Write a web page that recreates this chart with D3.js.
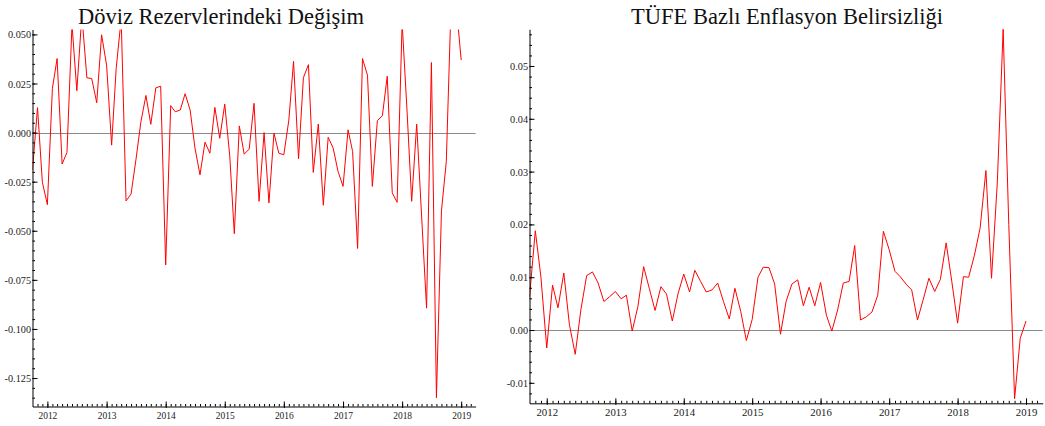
<!DOCTYPE html>
<html>
<head>
<meta charset="utf-8">
<script src="https://cdn.jsdelivr.net/npm/d3@7"></script>
<style>
  body { margin: 0; background: #fff; }
  svg { display: block; font-family: "Liberation Serif", "Times New Roman", serif; }
</style>
</head>
<body>
<div id="chart"></div>
<script>
var width = 1045,
    height = 426;

// monthly observations, Oct 2011 .. Jan 2019
var firstMonth = new Date(2011, 9, 1),
    lastAxisDay = new Date(2019, 2, 31);

var titles = ["Döviz Rezervlerindeki Değişim", "TÜFE Bazlı Enflasyon Belirsizliği"];

var reserveChange = [
  -0.019, 0.0127, -0.0253, -0.0367, 0.0225, 0.0377, -0.016, -0.0101, 0.055, 0.0213,
  0.060, 0.0279, 0.0275, 0.0152, 0.0498, 0.0343, -0.0064, 0.0326, 0.058, -0.0348,
  -0.0313, -0.0139, 0.0056, 0.0189, 0.0042, 0.0228, 0.0236, -0.0674, 0.0137, 0.0106,
  0.0115, 0.0198, 0.0115, -0.0079, -0.0215, -0.0049, -0.0105, 0.0128, -0.0029, 0.0145,
  -0.012, -0.0515, 0.0034, -0.011, -0.0084, 0.0149, -0.035, 0.0, -0.0358, -0.0003,
  -0.0105, -0.0113, 0.0064, 0.0363, -0.0133, 0.028, 0.0346, -0.0203, 0.0044, -0.037,
  -0.0024, -0.0079, -0.0198, -0.0274, 0.0014, -0.0096, -0.059, 0.0377, 0.0292, -0.0274,
  0.0061, 0.0086, 0.0287, -0.0307, -0.0355, 0.056, 0.010, -0.035, 0.0043, -0.042,
  -0.0894, 0.0357, -0.135, -0.040, -0.0147, 0.070, 0.065, 0.0369
];

var cpiUncertainty = [
  0.0062, 0.0188, 0.010, -0.0034, 0.0085, 0.0042, 0.0108, 0.001, -0.0046, 0.0038,
  0.0103, 0.011, 0.0089, 0.0054, 0.0063, 0.0073, 0.0059, 0.0066, -0.0002, 0.0044,
  0.012, 0.0079, 0.0037, 0.0082, 0.0068, 0.0017, 0.0068, 0.0106, 0.0072, 0.0113,
  0.0092, 0.0072, 0.0076, 0.0089, 0.0054, 0.0021, 0.0079, 0.0035, -0.002, 0.002,
  0.010, 0.0119, 0.0118, 0.0087, -0.0008, 0.0054, 0.0087, 0.0095, 0.0046, 0.0081,
  0.0046, 0.009, 0.0028, -0.0002, 0.0038, 0.0089, 0.0092, 0.016, 0.0019, 0.0025,
  0.0034, 0.0066, 0.0187, 0.0152, 0.0111, 0.0101, 0.0087, 0.0076, 0.0019, 0.0057,
  0.0098, 0.0073, 0.0096, 0.0165, 0.0092, 0.0013, 0.0101, 0.010, 0.0142, 0.0193,
  0.0302, 0.0098, 0.028, 0.057, 0.02, -0.013, -0.0016, 0.0017
];

var yearTicks = d3.range(2012, 2020);
var leftMajor = [-0.125, -0.1, -0.075, -0.05, -0.025, 0, 0.025, 0.05];
var rightMajor = [-0.01, 0, 0.01, 0.02, 0.03, 0.04, 0.05];

var dates = reserveChange.map(function(d, i) { return d3.timeMonth.offset(firstMonth, i); });
var monthTicks = d3.timeMonth.range(d3.timeMonth.offset(firstMonth, 1), lastAxisDay);
var yearDates = yearTicks.map(function(y) { return new Date(y, 0, 1); });

var svg = d3.select("#chart").append("svg")
  .attr("width", width)
  .attr("height", height);

var panels = [
  { id: "l", title: titles[0], titleX: 221, values: reserveChange,
    left: 32.5, right: 475.6, top: 29.5, bottom: 406.5,
    yDomain: [-0.1395, 0.0525], major: leftMajor, minorStep: 0.005, digits: 3, xScaleText: 0.86 },
  { id: "r", title: titles[1], titleX: 787, values: cpiUncertainty,
    left: 529.5, right: 1042.7, top: 29.3, bottom: 403.3,
    yDomain: [-0.01388, 0.05695], major: rightMajor, minorStep: 0.002, digits: 2, xScaleText: 0.98 }
];

panels.forEach(drawPanel);

function drawPanel(p) {
  var x = d3.scaleTime()
    .domain([firstMonth, lastAxisDay])
    .range([p.left, p.right]);

  var y = d3.scaleLinear()
    .domain(p.yDomain)
    .range([p.bottom, p.top]);

  var g = svg.append("g");

  svg.append("clipPath").attr("id", "clip-" + p.id)
    .append("rect")
    .attr("x", p.left)
    .attr("y", p.top)
    .attr("width", p.right - p.left)
    .attr("height", p.bottom - p.top);

  //title
  svg.append("text")
    .attr("x", p.titleX)
    .attr("y", 24)
    .attr("text-anchor", "middle")
    .style("font-size", "22.5px")
    .style("fill", "#111")
    .text(p.title);

  //zero reference line
  g.append("line")
    .attr("x1", p.left).attr("x2", p.right)
    .attr("y1", Math.round(y(0)) + 0.5).attr("y2", Math.round(y(0)) + 0.5)
    .attr("stroke", "#8a8a8a")
    .attr("stroke-width", 1);

  //series
  var line = d3.line()
    .x(function(d, i) { return x(dates[i]); })
    .y(function(d) { return y(d); });

  g.append("path")
    .datum(p.values)
    .attr("clip-path", "url(#clip-" + p.id + ")")
    .attr("d", line)
    .attr("fill", "none")
    .attr("stroke", "#ff0000")
    .attr("stroke-width", 1);

  //minor y ticks
  var minor = d3.range(Math.ceil(p.yDomain[0] / p.minorStep), Math.floor(p.yDomain[1] / p.minorStep) + 1)
    .map(function(k) { return k * p.minorStep; });

  g.append("g")
    .attr("transform", "translate(" + p.left + ",0)")
    .call(d3.axisLeft(y).tickValues(minor).tickSize(-2.5).tickSizeOuter(0).tickFormat(""))
    .call(function(a) { a.select(".domain").remove(); });

  //major y ticks + labels
  var yAxis = g.append("g")
    .attr("transform", "translate(" + p.left + ",0)")
    .call(d3.axisLeft(y).tickValues(p.major).tickSize(-5).tickSizeOuter(0)
      .tickFormat(function(d) { return d.toFixed(p.digits); }));
  yAxis.select(".domain").attr("stroke", "#000");
  yAxis.selectAll("text")
    .attr("x", 0)
    .attr("transform", "translate(-1.5,0) scale(0.93,1)")
    .style("font-size", "11px")
    .style("font-family", "Liberation Serif, serif")
    .style("fill", "#1a1a1a");

  //minor x ticks (months)
  g.append("g")
    .attr("transform", "translate(0," + p.bottom + ")")
    .call(d3.axisBottom(x).tickValues(monthTicks).tickSize(-2.5).tickSizeOuter(0).tickFormat(""))
    .call(function(a) { a.select(".domain").remove(); });

  //major x ticks (years)
  var xAxis = g.append("g")
    .attr("transform", "translate(0," + p.bottom + ")")
    .call(d3.axisBottom(x).tickValues(yearDates).tickSize(-5).tickSizeOuter(0).tickPadding(5)
      .tickFormat(d3.timeFormat("%Y")));
  xAxis.selectAll(".tick line").attr("y1", 1.5);
  xAxis.selectAll("text")
    .attr("transform", "scale(" + p.xScaleText + ",1)")
    .style("font-size", "11px")
    .style("font-family", "Liberation Serif, serif")
    .style("fill", "#1a1a1a");
}
</script>
</body>
</html>
